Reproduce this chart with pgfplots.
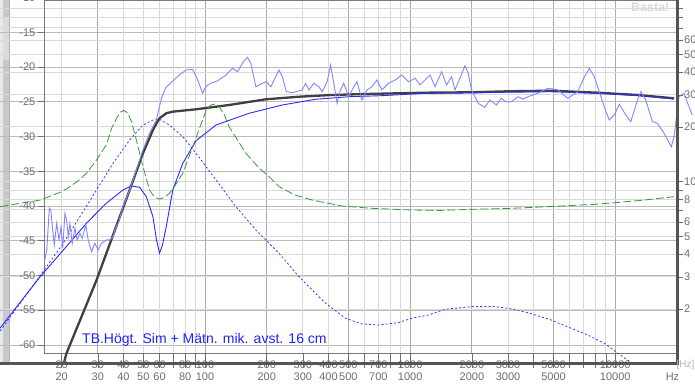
\documentclass[border=0pt]{standalone}
\usepackage{fontspec}
\setmainfont{Liberation Sans}
\usepackage{pgfplots}
\pgfplotsset{compat=1.18}
\definecolor{gridD}{HTML}{ABABAB}
\definecolor{gridL}{HTML}{DADADA}
\definecolor{gridM}{HTML}{BBBBBB}
\definecolor{labgray}{HTML}{6E6E6E}
\definecolor{framec}{HTML}{7A7A7A}
\definecolor{barc}{HTML}{555555}
\definecolor{simblk}{HTML}{404040}
\definecolor{simblue}{HTML}{2A2AFF}
\definecolor{measblue}{HTML}{8585FF}
\definecolor{dotblue}{HTML}{3535FF}
\definecolor{impgreen}{HTML}{3C963C}
\definecolor{titleblue}{HTML}{2222FF}
\tikzset{lab/.style={font=\fontsize{11}{12}\selectfont,text=labgray,inner sep=0pt}}
\begin{document}
\begin{tikzpicture}[x=1pt,y=1pt]
\useasboundingbox (0,0) rectangle (695,390);
\clip (0,0) rectangle (695,390);
\fill[white] (0,0) rectangle (695,390);
\fill[gray!18] (0,27) rectangle (3,390);
\fill[gray!42] (3,27) rectangle (9,390);
\fill[gray!28] (3,330) rectangle (9,372);
\draw[gray!60, line width=0.6pt] (9.3,27) -- (9.3,390);
% background dB grid (extends to left edge)
\begin{axis}[at={(0pt,37pt)},anchor=south west,scale only axis,
  width=677pt,height=353pt,xmode=log,xmin=10.03,xmax=20000,
  ymin=-61.15, ymax=-10.35,
  axis line style={draw=none}, tick style={draw=none},
  xticklabels={}, yticklabels={}, xtick=\empty, xminorticks=false,
  ytick={-60,-55,-50,-45,-40,-35,-30,-25,-20,-15},
  ymajorgrids, grid style={gridM, line width=0.8pt}]
\end{axis}
% grid axis (impedance log grid + frequency grid)
\begin{axis}[at={(0pt,37pt)},anchor=south west,scale only axis,
  width=677pt,height=353pt,xmode=log,xmin=10.03,xmax=20000,
  ymode=log, ymin=1.146, ymax=99.5,
  axis line style={draw=none}, tick style={draw=none},
  xticklabels={}, yticklabels={},
  xtick={30,100,200,500,1000,2000,5000,10000},
  minor xtick={20,40,50,60,70,80,90,300,400,600,700,800,900,3000,4000,6000,7000,8000,9000,20000},
  ytick={10}, minor ytick={2,3,4,5,6,7,8,9,20,30,40,50,60,70,80,90},
  grid=both,
  every major x grid/.style={gridD, line width=0.8pt},
  every minor x grid/.style={gridL, line width=0.8pt},
  every major y grid/.style={gridL, line width=0.8pt},
  every minor y grid/.style={gridL, line width=0.8pt}]
\end{axis}
% dB axis
\begin{axis}[at={(44pt,37pt)},anchor=south west,scale only axis,
  width=633pt,height=353pt,xmode=log,xmin=16.4,xmax=20000,clip=false,
  ymin=-61.15, ymax=-10.35,
  axis line style={framec, line width=0.8pt},
  xtick=\empty, xminorticks=false,
  ytick pos=left, tick align=outside, major tick length=6pt,
  tick style={labgray, line width=0.6pt},
  ytick={-60,-55,-50,-45,-40,-35,-30,-25,-20,-15},
  yticklabels={-60,-55,-50,-45,-40,-35,-30,-25,-20,-15},
  yticklabel style={lab, xshift=-2.5pt}]
\addplot[dotblue, line width=0.8pt, dash pattern=on 2pt off 2.2pt] coordinates {
(10.03,-57.98) (15.99,-49.68) (20.36,-45.36) (24.54,-41.53) (29.57,-37.69) (35.6,-33.85)
(42.9,-30.5) (49.8,-28.34) (55.7,-27.62) (60,-27.52) (67.08,-28.34) (77.9,-30.02)
(90.4,-32.41) (113.1,-36.25) (141.4,-40.09) (176.9,-43.45) (229.5,-46.8) (286.9,-50.17)
(386.7,-53.99) (483.6,-56.15) (582.1,-56.97) (701.6,-57.12) (877.6,-56.78) (1018,-56.15)
(1227,-55.68) (1479,-54.86) (1991,-54.48) (2586,-54.48) (3000,-54.71) (3752,-55.35)
(4869,-56.4) (6087,-57.59) (7335,-58.55) (8843,-59.75) (9888,-60.81) (11470,-62.15)
(12260,-62.63) (19430,-62.63)};
\addplot[simblk, line width=2.3pt] coordinates {
(20.5,-62.6) (21.1,-61.2) (29.6,-50.64) (35.6,-44.17) (42.9,-37.69) (49.8,-32.41)
(55.7,-29.06) (58,-28.1) (60,-27.37) (64.7,-26.65) (69.6,-26.42) (90.4,-26.08) (131,-25.46)
(198,-24.64) (287,-24.27) (415,-24.02) (605,-23.88) (1182,-23.69) (1991,-23.63)
(3000,-23.49) (4869,-23.40) (8204,-23.69) (12830,-24.02) (19340,-24.5)};
\addplot[simblue, line width=0.9pt] coordinates {
(10.0,-57.59) (15.7,-50.17) (20.4,-46.32) (26.4,-42.48) (33.0,-39.6) (39.8,-37.69)
(43.7,-37.12) (48.0,-37.3) (51.7,-38.65) (55.7,-41.53) (58.0,-44.9) (60.0,-46.8)
(62.0,-45.6) (64.7,-42.97) (69.6,-37.69) (77.9,-33.85) (90.4,-30.6) (113.1,-28.34)
(164.1,-26.65) (238.1,-25.46) (345.8,-24.64) (501.9,-24.27) (725.5,-24.12) (1182,-23.78)
(1991,-23.69) (4869,-23.55) (8204,-23.78) (12830,-24.1) (19340,-24.6)};
\addplot[measblue, line width=0.9pt] coordinates {
(16.47,-48.01) (16.92,-46.32) (17.41,-40.32) (17.69,-40.57) (18.09,-43.45) (18.41,-45.6)
(18.91,-42.48) (19.41,-44.88) (19.85,-42.97) (20.23,-46.08) (20.75,-41.04) (21.14,-42.01)
(21.53,-44.41) (21.94,-42.48) (22.51,-45.36) (23.2,-43.2) (23.81,-44.88) (24.54,-43.92)
(25.18,-44.64) (26.24,-42.73) (26.92,-44.88) (27.97,-46.57) (29.01,-45.36) (30.1,-46.32)
(31.27,-45.36) (33.06,-44.88) (34.3,-44.88) (35.6,-44.41) (36.28,-43.45) (37.94,-42.29)
(39.81,-40.09) (42.9,-37.69) (46.24,-34.81) (49.8,-31.94) (53.66,-29.53) (57.83,-27.62)
(61.36,-24.45) (64.17,-23.01) (69.6,-22.01) (75.02,-21.14) (80.87,-20.42) (87.07,-20.35)
(92.06,-21.86) (97.34,-23.78) (101.5,-22.73) (107.3,-22.29) (114.7,-22.01) (126.4,-21.14)
(136.1,-20.18) (143.9,-20.67) (153.4,-19.27) (161,-18.6) (167.2,-19.46) (176.9,-22.83)
(190.4,-22.34) (199.1,-22.11) (209.2,-22.83) (229.5,-20.42) (238.1,-21.39) (249,-23.55)
(266.2,-23.69) (297.7,-23.3) (309.3,-22.34) (320.9,-23.3) (339.4,-22.34) (358.9,-22.83)
(372.4,-23.55) (393.7,-22.11) (409,-19.71) (424.4,-22.34) (440.3,-25.22) (457.4,-23.3)
(474.5,-22.34) (501.9,-24.27) (530.8,-22.83) (550.7,-22.11) (582.1,-24.74) (615.6,-23.3)
(651,-22.83) (688.5,-21.86) (728,-23.3) (784.8,-22.34) (845.8,-21.86) (910.7,-21.14)
(981.1,-22.11) (1057,-21.62) (1118,-22.58) (1182,-21.86) (1250,-21.14) (1322,-22.83)
(1424,-20.67) (1506,-22.58) (1592,-21.39) (1654,-23.3) (1749,-21.62) (1849,-19.81)
(1919,-20.9) (1991,-23.3) (2146,-25.22) (2313,-25.79) (2446,-24.74) (2633,-25.46)
(2784,-24.5) (2934,-25.03) (3113,-24.99) (3355,-24.27) (3548,-24.6) (3752,-24.27)
(3967,-24.02) (4195,-23.78) (4692,-23.06) (5019,-23.16) (5248,-23.3) (5868,-24.5)
(6564,-23.55) (7071,-21.39) (7477,-20.18) (7907,-21.39) (8513,-24.27) (8873,-25.89)
(9352,-27.62) (9888,-26.9) (10457,-25.36) (11259,-26.9) (11905,-27.86) (12830,-24.74)
(13312,-23.55) (14076,-24.74) (15177,-27.86) (16045,-28.09) (17293,-29.53) (18762,-31.46)
(19340,-30.02) (20450,-24.27) (21630,-23.78) (22870,-25.71) (23730,-26.9)};
\end{axis}
% impedance axis (right)
\begin{axis}[at={(44pt,37pt)},anchor=south west,scale only axis,
  width=633pt,height=353pt,xmode=log,xmin=16.4,xmax=20000,clip=false,
  ymode=log, ymin=1.146, ymax=99.5,
  axis x line=none, axis y line*=right, axis line style={draw=none},
  tick align=outside, major tick length=6pt, yminorticks=false,
  tick style={labgray, line width=0.6pt},
  ytick={2,3,4,5,6,7,8,9,10,20,30,40,50,60,70,80,90,100},
  yticklabels={2,3,4,5,6,,8,,10,20,30,40,50,60,,,,},
  yticklabel style={lab, anchor=west, xshift=1pt}]
\addplot[impgreen, line width=0.8pt, dash pattern=on 8pt off 3pt] coordinates {
(10.03,7.29) (12.54,7.61) (15.73,7.93) (20.0,8.81) (21.94,9.39) (23.99,10.09) (26.4,11.12)
(29.57,13.16) (33.0,15.91) (35.09,19.73) (37.1,22.39) (38.8,24.15) (40.12,24.61)
(41.96,23.85) (43.87,21.28) (46.24,16.95) (49.8,12.09) (53.66,9.0) (56.75,8.19) (60,8.04)
(63.45,8.19) (67.08,8.64) (71.74,9.59) (77.9,11.12) (87.07,15.57) (97.34,21.83)
(101.5,24.78) (106.9,26.39) (112.2,26.73) (117.3,25.83) (124.1,23.26) (131,20.05)
(158.1,14.32) (183.4,11.89) (205.2,10.65) (229.5,9.39) (274.3,8.45) (332.9,7.93)
(465.6,7.35) (651,7.14) (1018,6.99) (1372,6.95) (1991,7.05) (3113,7.14) (5444,7.35)
(7907,7.51) (10260,7.69) (13830,7.93) (19340,8.27)};
\end{axis}
% frequency tick labels
\begin{axis}[at={(44pt,37pt)},anchor=south west,scale only axis,
  width=633pt,height=353pt,xmode=log,xmin=16.4,xmax=20000,clip=false,
  ymin=0, ymax=1,
  axis y line=none, axis x line*=bottom, axis line style={draw=none},
  tick align=outside, major tick length=15pt, xminorticks=false,
  tick style={labgray, line width=0.6pt},
  xtick={20,30,40,50,60,70,80,90,100,200,300,400,500,600,700,800,900,1000,2000,3000,4000,5000,6000,7000,8000,9000,10000},
  xticklabels={{20\\20},{30\\30},{40\\40},{50\\50},{60\\60},{},{80\\80},{},{100\\100},{200\\200},{300\\300},{400\\400},{500\\500},{},{700\\700},{},{},{1000\\1000},{2000\\2000},{3000\\3000},{},{5000\\5000},{},{},{},{},{10000\\10000}},
  xticklabel style={lab, align=center, anchor=north, yshift=7pt}]
\end{axis}
\draw[barc, line width=3pt] (677.5,390) -- (677.5,25);
\draw[barc, line width=3.5pt] (0,26.7) -- (679,26.7);
\node[lab, anchor=east] at (35.5,392.4) {-10};
\node[anchor=base west, font=\fontsize{14}{16}\selectfont, text=titleblue, inner sep=0pt] at (82,46) {TB.Högt. Sim + Mätn. mik. avst. 16 cm};
\node[anchor=north west, font=\bfseries\fontsize{12.5}{14}\selectfont, text=gray!30, inner sep=0pt] at (631,387) {Basta!};
\node[anchor=west, font=\fontsize{10}{12}\selectfont, text=gray!55, inner sep=0pt] at (676.5,25) {[Hz]};
\node[lab] at (672.5,13) {Hz};
\end{tikzpicture}
\end{document}
